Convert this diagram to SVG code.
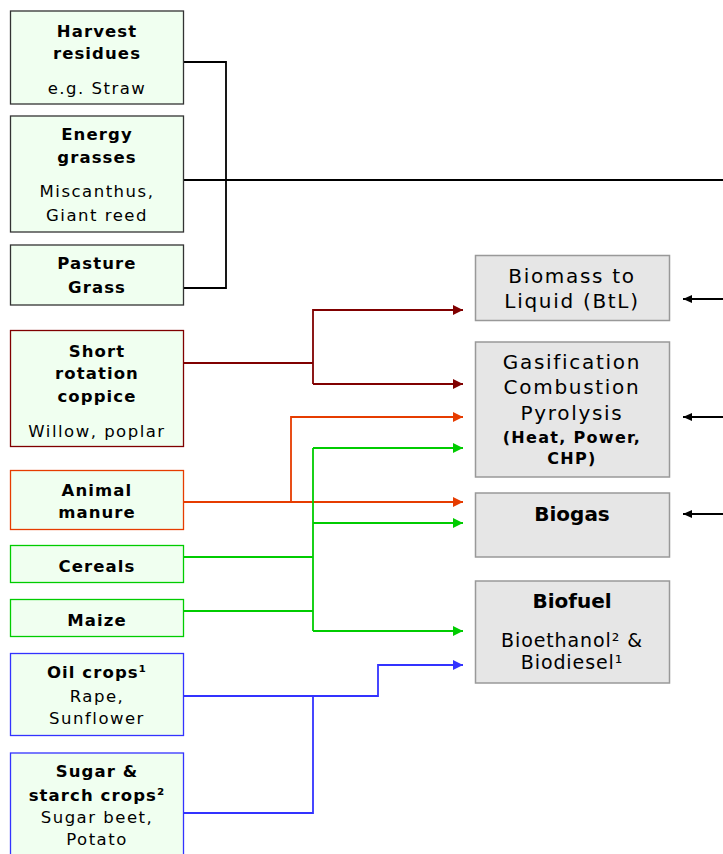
<svg xmlns="http://www.w3.org/2000/svg" width="723" height="854" viewBox="0 0 723 854">
<style>
.src{fill:#f0fff0;stroke-width:1.3}
.proc{fill:#e6e6e6;stroke:#999;stroke-width:1.5}
text{font-family:"DejaVu Sans",Verdana,sans-serif;fill:#000;text-anchor:middle}
.b{font-weight:bold;font-size:16.5px;letter-spacing:1.1px}
.r{font-size:16.5px;letter-spacing:1.5px}
.pr{font-size:20px;letter-spacing:1.7px}
.pb{font-size:20px;font-weight:bold}
.ps{font-size:16px;font-weight:bold;letter-spacing:1.3px}
.bs{font-size:19px;letter-spacing:0.9px}
.c{fill:none;stroke-width:1.8}
</style>
<defs>
<marker id="aR" markerUnits="userSpaceOnUse" markerWidth="12" markerHeight="10" refX="10" refY="5" orient="auto"><path d="M0,0 L10,5 L0,10 Z" fill="#800000"/></marker>
<marker id="aO" markerUnits="userSpaceOnUse" markerWidth="12" markerHeight="10" refX="10" refY="5" orient="auto"><path d="M0,0 L10,5 L0,10 Z" fill="#e63c00"/></marker>
<marker id="aG" markerUnits="userSpaceOnUse" markerWidth="12" markerHeight="10" refX="10" refY="5" orient="auto"><path d="M0,0 L10,5 L0,10 Z" fill="#00cc00"/></marker>
<marker id="aB" markerUnits="userSpaceOnUse" markerWidth="12" markerHeight="10" refX="10" refY="5" orient="auto"><path d="M0,0 L10,5 L0,10 Z" fill="#3333ff"/></marker>
<marker id="aK" markerUnits="userSpaceOnUse" markerWidth="10" markerHeight="8" refX="9" refY="4" orient="auto"><path d="M0,0 L9,4 L0,8 Z" fill="#000"/></marker>
</defs>

<g id="connectors">
<path class="c" stroke="#000" d="M183,62 H226 V288 H183"/>
<path class="c" stroke="#000" d="M183,180 H723"/>
<path class="c" stroke="#000" stroke-width="1.3" d="M723,299 H683" marker-end="url(#aK)"/>
<path class="c" stroke="#000" stroke-width="1.3" d="M723,417 H683" marker-end="url(#aK)"/>
<path class="c" stroke="#000" stroke-width="1.3" d="M723,514 H683" marker-end="url(#aK)"/>

<path class="c" stroke="#800000" stroke-width="1.3" d="M183,363 H313"/>
<path class="c" stroke="#800000" stroke-width="1.3" d="M463,310 H313 V384"/>
<path class="c" stroke="#800000" d="M313,310 H463" marker-end="url(#aR)"/>
<path class="c" stroke="#800000" stroke-width="2.2" d="M313,384 H463" marker-end="url(#aR)"/>

<path class="c" stroke="#e63c00" d="M183,502 H463" marker-end="url(#aO)"/>
<path class="c" stroke="#e63c00" d="M291,502 V417 H463" marker-end="url(#aO)"/>

<path class="c" stroke="#00cc00" stroke-width="2.2" d="M183,557 H313"/>
<path class="c" stroke="#00cc00" stroke-width="2.2" d="M183,611 H313"/>
<path class="c" stroke="#00cc00" stroke-width="1.5" d="M313,631 V448"/>
<path class="c" stroke="#00cc00" d="M313,448 H463" marker-end="url(#aG)"/>
<path class="c" stroke="#00cc00" stroke-width="2.2" d="M313,523 H463" marker-end="url(#aG)"/>
<path class="c" stroke="#00cc00" stroke-width="2.2" d="M313,631 H463" marker-end="url(#aG)"/>

<path class="c" stroke="#3333ff" stroke-width="2.2" d="M183,696 H378 V665 H463" marker-end="url(#aB)"/>
<path class="c" stroke="#3333ff" d="M183,813 H313 V696"/>
</g>

<g id="harvest">
<rect class="src" x="10.5" y="11" width="173" height="93" stroke="#333"/>
<text class="b" x="97" y="37">Harvest</text>
<text class="b" x="97" y="59">residues</text>
<text class="r" x="97" y="94">e.g. Straw</text>
</g>
<g id="energy">
<rect class="src" x="10.5" y="116" width="173" height="116" stroke="#333"/>
<text class="b" x="97" y="140">Energy</text>
<text class="b" x="97" y="163">grasses</text>
<text class="r" x="97" y="197">Miscanthus,</text>
<text class="r" x="97" y="221">Giant reed</text>
</g>
<g id="pasture">
<rect class="src" x="10.5" y="245" width="173" height="60" stroke="#333"/>
<text class="b" x="97" y="269">Pasture</text>
<text class="b" x="97" y="293">Grass</text>
</g>
<g id="coppice">
<rect class="src" x="10.5" y="330.5" width="173" height="116" stroke="#800000"/>
<text class="b" x="97" y="357">Short</text>
<text class="b" x="97" y="379">rotation</text>
<text class="b" x="97" y="402">coppice</text>
<text class="r" x="97" y="437">Willow, poplar</text>
</g>
<g id="manure">
<rect class="src" x="10.5" y="470.5" width="173" height="59" stroke="#e63c00" stroke-width="2"/>
<text class="b" x="97" y="496">Animal</text>
<text class="b" x="97" y="518">manure</text>
</g>
<g id="cereals">
<rect class="src" x="10.5" y="545.5" width="173" height="37" stroke="#00cc00"/>
<text class="b" x="97" y="572">Cereals</text>
</g>
<g id="maize">
<rect class="src" x="10.5" y="599.5" width="173" height="37" stroke="#00cc00"/>
<text class="b" x="97" y="626">Maize</text>
</g>
<g id="oil">
<rect class="src" x="10.5" y="653.5" width="173" height="82" stroke="#3333ff" stroke-width="1.6"/>
<text class="b" x="97" y="678">Oil crops¹</text>
<text class="r" x="97" y="702">Rape,</text>
<text class="r" x="97" y="724">Sunflower</text>
</g>
<g id="sugar">
<rect class="src" x="10.5" y="753" width="173" height="110" stroke="#3333ff" stroke-width="1.6"/>
<text class="b" x="97" y="777">Sugar &amp;</text>
<text class="b" x="97" y="801">starch crops²</text>
<text class="r" x="97" y="823">Sugar beet,</text>
<text class="r" x="97" y="845">Potato</text>
</g>

<g id="btl">
<rect class="proc" x="475.5" y="255.5" width="194" height="65"/>
<text class="pr" x="572" y="283">Biomass to</text>
<text class="pr" x="572" y="308">Liquid (BtL)</text>
</g>
<g id="gasification">
<rect class="proc" x="475.5" y="342" width="194" height="135"/>
<text class="pr" x="572" y="369">Gasification</text>
<text class="pr" x="572" y="394">Combustion</text>
<text class="pr" x="572" y="420">Pyrolysis</text>
<text class="ps" x="572" y="443">(Heat, Power,</text>
<text class="ps" x="572" y="464">CHP)</text>
</g>
<g id="biogas">
<rect class="proc" x="475.5" y="493" width="194" height="64"/>
<text class="pb" x="572" y="521">Biogas</text>
</g>
<g id="biofuel">
<rect class="proc" x="475.5" y="581" width="194" height="102"/>
<text class="pb" x="572" y="608">Biofuel</text>
<text class="bs" x="572" y="647">Bioethanol² &amp;</text>
<text class="bs" x="572" y="669">Biodiesel¹</text>
</g>
</svg>
